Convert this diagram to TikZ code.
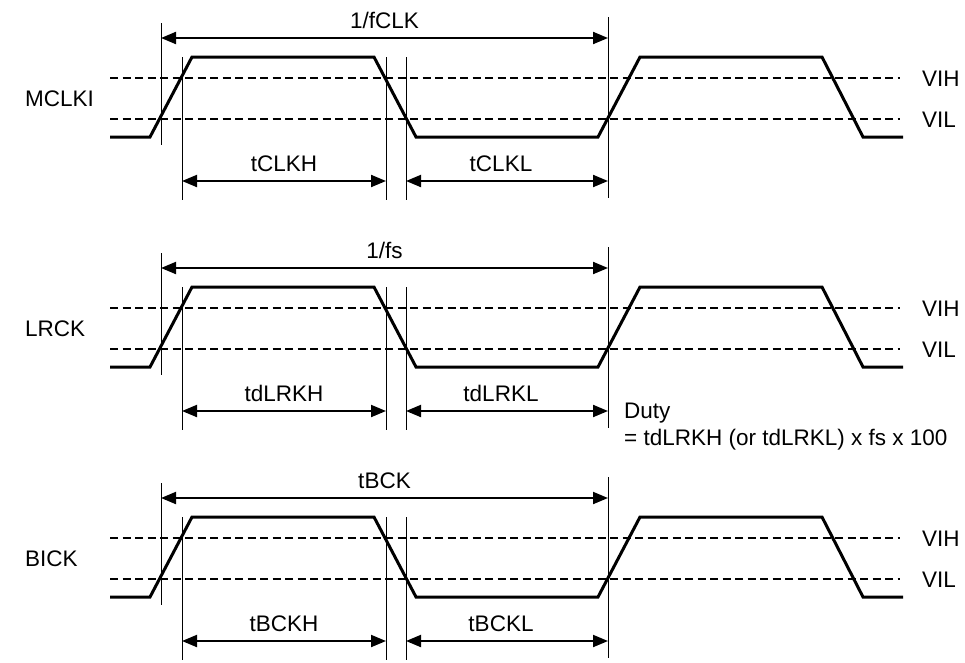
\documentclass[tikz,border=0pt]{standalone}
\usepackage{fontspec}
\setmainfont{Liberation Sans}
\usetikzlibrary{arrows.meta}

\begin{document}
\begin{tikzpicture}[x=1pt,y=-1pt,>={Triangle[length=15pt,width=12pt]},
        wave/.style={line width=3pt,line join=miter},
        level/.style={line width=2pt,dash pattern=on 8pt off 4.5pt},
        guide/.style={line width=1pt},
        dim/.style={line width=2pt,<->},
        dimlabel/.style={midway,anchor=base,yshift=10pt},
        every node/.style={inner sep=0pt,font=\fontsize{22.5}{27}\selectfont}]
  \useasboundingbox (0,0) rectangle (965,662);

  % one block per signal: MCLKI, LRCK, BICK
  \foreach \nm/\oy/\sig/\per/\hi/\lo in {mc/0/MCLKI/{1/fCLK}/tCLKH/tCLKL,
      lr/230/LRCK/{1/fs}/tdLRKH/tdLRKL, bi/460/BICK/tBCK/tBCKH/tBCKL} {
    \begin{scope}[shift={(0,\oy)}]
      \node[anchor=west] (\nm-name) at (25,99) {\sig};
      \node[anchor=west] (\nm-vih) at (922,79) {VIH};
      \node[anchor=west] (\nm-vil) at (922,120) {VIL};

      % threshold levels
      \coordinate (\nm-h0) at (110,78);
      \coordinate (\nm-l0) at (110,119);
      \draw[level] (\nm-h0) -- ([xshift=-22pt]\nm-h0 -| \nm-vih.west);
      \draw[level] (\nm-l0) -- ([xshift=-22pt]\nm-l0 -| \nm-vil.west);

      % signal
      \draw[wave] (110,137) -- (150,137) -- (192,57) -- (374,57) -- (416,137)
        -- (598,137) -- (640,57) -- (822,57) -- (863,137) -- (903,137);

      % reference lines at the crossings
      \draw[guide] (161,23) -- (161,145);
      \draw[guide] (182,57) -- (182,200);
      \draw[guide] (386,57) -- (386,200);
      \draw[guide] (406,57) -- (406,200);
      \draw[guide] (608,17) -- (608,198);

      \coordinate (\nm-p0) at (161,38);
      \coordinate (\nm-p1) at (608,38);
      \coordinate (\nm-a) at (182,181);
      \coordinate (\nm-b) at (386,181);
      \coordinate (\nm-c) at (406,181);
      \coordinate (\nm-d) at (608,181);

      \draw[dim] (\nm-p0) -- node[dimlabel] (\nm-per) {\per} (\nm-p1);
      \draw[dim] (\nm-a) -- node[dimlabel] (\nm-hi) {\hi} (\nm-b);
      \draw[dim] (\nm-c) -- node[dimlabel,xshift=-6pt] (\nm-lo) {\lo} (\nm-d);
    \end{scope}
  }

  \node[anchor=base west,align=left] (duty) at (624,445)
    {Duty\\= tdLRKH (or tdLRKL) x fs x 100};
\end{tikzpicture}
\end{document}
